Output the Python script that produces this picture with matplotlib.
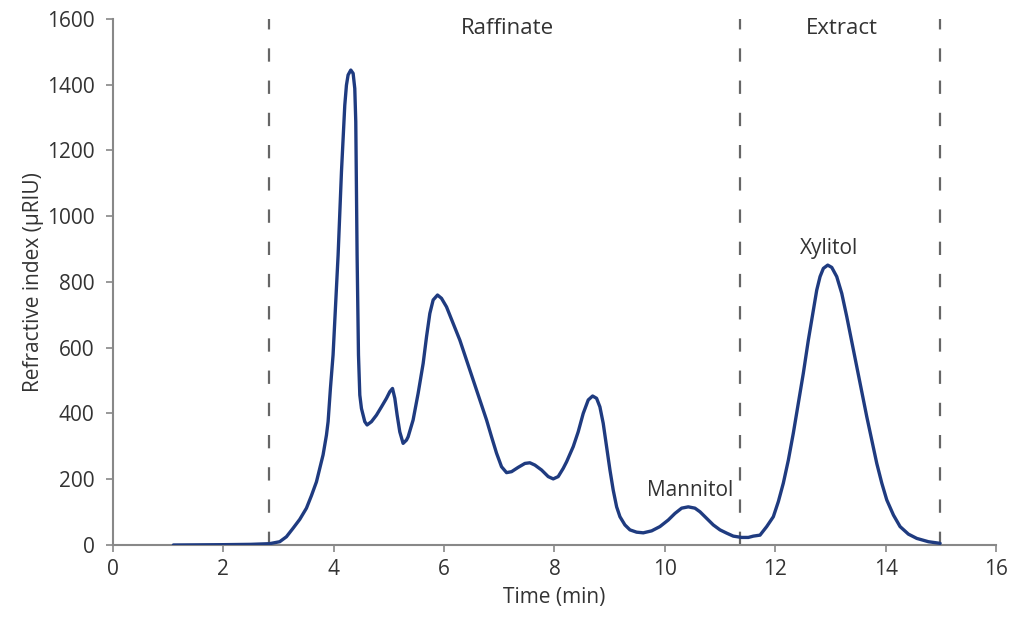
import matplotlib
matplotlib.use("Agg")
import matplotlib.pyplot as plt

plt.rcParams['font.family'] = ['Open Sans', 'DejaVu Sans']

# chromatogram
time_min = [1.1, 2.0, 2.5, 2.84, 3.025, 3.146, 3.267, 3.388, 3.509, 3.599, 3.690, 3.750,
            3.810, 3.871, 3.901, 3.943, 3.991, 4.022, 4.052, 4.082, 4.112, 4.143, 4.172,
            4.203, 4.233, 4.263, 4.312, 4.354, 4.384, 4.402, 4.414, 4.426, 4.438, 4.451,
            4.475, 4.505, 4.565, 4.607, 4.686, 4.777, 4.867, 4.958, 5.018, 5.067, 5.109,
            5.151, 5.199, 5.259, 5.320, 5.350, 5.440, 5.531, 5.622, 5.683, 5.743, 5.803,
            5.882, 5.954, 6.045, 6.165, 6.286, 6.408, 6.527, 6.649, 6.770, 6.860, 6.951,
            7.041, 7.132, 7.223, 7.342, 7.464, 7.554, 7.645, 7.766, 7.886, 7.977, 8.067,
            8.158, 8.219, 8.339, 8.429, 8.520, 8.611, 8.690, 8.762, 8.822, 8.882, 8.944,
            9.004, 9.063, 9.125, 9.185, 9.275, 9.366, 9.487, 9.607, 9.759, 9.909, 10.060,
            10.181, 10.302, 10.422, 10.543, 10.634, 10.755, 10.875, 10.996, 11.118, 11.237,
            11.389, 11.51, 11.60, 11.721, 11.842, 11.962, 12.053, 12.143, 12.234, 12.324,
            12.415, 12.505, 12.596, 12.687, 12.748, 12.808, 12.868, 12.947, 13.020, 13.110,
            13.201, 13.292, 13.382, 13.473, 13.563, 13.654, 13.745, 13.835, 13.926, 14.016,
            14.137, 14.257, 14.408, 14.560, 14.770, 14.982]
signal = [0, 1, 2, 4, 10, 25, 51, 78, 112, 150, 192, 233,
          274, 334, 375, 476, 578, 679, 780, 881, 1003, 1135, 1236,
          1337, 1398, 1429, 1444, 1434, 1388, 1287, 1084, 881, 729, 578,
          456, 415, 375, 365, 375, 395, 420, 446, 466, 476, 446,
          395, 344, 309, 319, 329, 380, 461, 552, 633, 704, 745,
          760, 750, 724, 674, 623, 562, 502, 441, 380, 329, 279,
          238, 220, 223, 236, 248, 250, 243, 228, 208, 201, 208,
          233, 253, 299, 344, 400, 441, 453, 446, 420, 370, 299,
          228, 167, 116, 86, 61, 46, 39, 37, 43, 56, 76,
          96, 112, 116, 112, 101, 81, 61, 46, 36, 27,
          23, 23, 27, 30, 56, 86, 132, 188, 258, 340,
          431, 522, 623, 714, 775, 816, 841, 851, 844, 816,
          765, 694, 618, 542, 466, 390, 319, 248, 188, 137,
          91, 56, 33, 20, 10, 5]

zone_bounds = [2.84, 11.36, 14.98]
zone_names = ['Raffinate', 'Extract']
zone_label_x = [7.15, 13.2]
peak_names = ['Mannitol', 'Xylitol']
peak_label_pos = [(10.45, 135), (12.97, 870)]

fig = plt.figure(figsize=(10.24, 6.25), dpi=100)
ax = fig.add_axes([0.110, 0.128, 0.863, 0.842])

for xb in zone_bounds:
    ax.plot([xb, xb], [0, 1600], color='#666666', lw=1.6,
            linestyle=(0, (6, 8.5)), zorder=1)

ax.plot(time_min, signal, color='#1f3b80', lw=2.4, solid_joinstyle='round',
        solid_capstyle='round', zorder=3)

for name, xl in zip(zone_names, zone_label_x):
    ax.text(xl, 1570, name, ha='center', va='center', fontsize=16, color='#333333')
for name, (xp, yp) in zip(peak_names, peak_label_pos):
    ax.text(xp, yp, name, ha='center', va='bottom', fontsize=15, color='#333333')

ax.set_xlim(0, 16)
ax.set_ylim(0, 1600)
ax.set_xticks(range(0, 17, 2))
ax.set_yticks(range(0, 1601, 200))
ax.set_xlabel('Time (min)', fontsize=15, color='#333333', labelpad=5)
ax.set_ylabel('Refractive index (µRIU)', fontsize=15, color='#333333', labelpad=2)

for side in ['top', 'right']:
    ax.spines[side].set_visible(False)
for side in ['left', 'bottom']:
    ax.spines[side].set_color('#888888')
    ax.spines[side].set_linewidth(1.5)
ax.tick_params(colors='#888888', labelcolor='#333333', labelsize=15, length=5, width=1.2)
ax.tick_params(axis='y', pad=8)
ax.tick_params(axis='x', pad=5)

fig.savefig('out.png', dpi=100, facecolor='white')
